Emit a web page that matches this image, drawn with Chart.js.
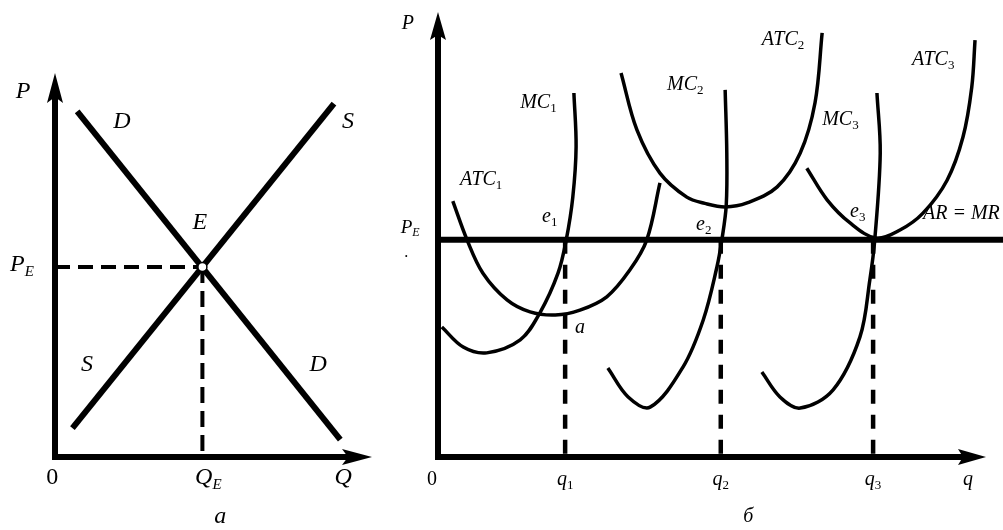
<!DOCTYPE html>
<html><head><meta charset="utf-8">
<script src="https://cdn.jsdelivr.net/npm/chart.js@4.4.1/dist/chart.umd.min.js"></script>
<style>
html,body{margin:0;padding:0;background:#fff;width:1003px;height:530px;overflow:hidden;}
canvas{position:absolute;top:0;}
#c1{left:0;} #c2{left:390px;}
</style></head><body>
<canvas id="c1" width="400" height="530"></canvas>
<canvas id="c2" width="613" height="530"></canvas>
<script>
// ---------- Panel "а": market ----------
const demandQ = [0.7, 9.0];
const demandP = [9.0, 0.45];
const supplyQ = [0.55, 8.8];
const supplyP = [0.75, 9.2];
const eqQ = 4.65;
const eqP = 4.95;

// ---------- Panel "б": firms ----------
const priceE = 4.88;
const qValues = [2.32, 5.16, 7.94];
const qTickLabels = ['1', '2', '3'];

const mc1Q  = [0.07, 0.46, 0.89, 1.50, 1.86, 2.19, 2.34, 2.46, 2.52, 2.48];
const mc1P  = [2.92, 2.47, 2.34, 2.63, 3.24, 4.13, 4.88, 5.84, 6.97, 8.18];
const atc1Q = [0.27, 0.53, 0.82, 1.26, 1.68, 2.14, 2.59, 3.08, 3.50, 3.81, 4.05];
const atc1P = [5.75, 4.88, 4.13, 3.53, 3.26, 3.19, 3.30, 3.60, 4.20, 4.88, 6.16];
const mc2Q  = [3.10, 3.47, 3.87, 4.47, 4.84, 5.09, 5.18, 5.26, 5.27, 5.24];
const mc2P  = [2.00, 1.35, 1.12, 2.02, 3.08, 4.27, 4.88, 5.66, 6.83, 8.25];
const atc2Q = [3.34, 3.63, 4.05, 4.54, 4.87, 5.24, 5.64, 6.19, 6.61, 6.88, 7.01];
const atc2P = [8.63, 7.35, 6.38, 5.84, 5.70, 5.62, 5.71, 6.07, 6.83, 7.96, 9.53];
const mc3Q  = [5.91, 6.24, 6.61, 7.21, 7.70, 7.88, 7.97, 8.07, 8.01];
const mc3P  = [1.91, 1.35, 1.10, 1.51, 2.70, 3.98, 4.88, 6.83, 8.18];
const atc3Q = [6.73, 7.10, 7.52, 7.99, 8.43, 8.85, 9.29, 9.58, 9.74, 9.80];
const atc3P = [6.49, 5.78, 5.26, 4.92, 5.10, 5.48, 6.22, 7.19, 8.31, 9.37];

// ---------- annotation config (text labels anchored in data units) ----------
const labelsA = [
  {t:'P', x:-1.01, y:9.51, al:'center'},
  {t:'D', x:2.11, y:8.72, al:'center'},
  {t:'S', x:9.24, y:8.72, al:'center'},
  {t:'E', x:4.57, y:6.09, al:'center'},
  {t:'P', s:'E', x:-1.42, y:5.0, al:'left', si:true},
  {t:'S', x:1.01, y:2.40, al:'center'},
  {t:'D', x:8.30, y:2.40, al:'center'},
  {t:'0', x:-0.09, y:-0.55, al:'center', up:true},
  {t:'Q', s:'E', x:4.42, y:-0.55, al:'left', si:true},
  {t:'Q', x:9.09, y:-0.55, al:'center'},
  {t:'а', x:5.21, y:-1.56, al:'center'}
];
const labelsB = [
  {t:'P', x:-0.55, y:9.73, al:'center'},
  {t:'P', s:'E', x:-0.68, y:5.15, al:'left', si:true, fs:19},
  {t:'.', x:-0.58, y:4.6, al:'center', up:true, fs:16},
  {t:'ATC', s:'1', x:0.40, y:6.22, al:'left'},
  {t:'MC', s:'1', x:1.50, y:7.96, al:'left'},
  {t:'e', s:'1', x:1.90, y:5.39, al:'left'},
  {t:'a', x:2.50, y:2.90, al:'left'},
  {t:'MC', s:'2', x:4.18, y:8.36, al:'left'},
  {t:'e', s:'2', x:4.71, y:5.21, al:'left'},
  {t:'ATC', s:'2', x:5.91, y:9.37, al:'left'},
  {t:'MC', s:'3', x:7.01, y:7.57, al:'left'},
  {t:'e', s:'3', x:7.52, y:5.51, al:'left'},
  {t:'ATC', s:'3', x:8.65, y:8.92, al:'left'},
  {t:'AR = MR', x:8.85, y:5.46, al:'left'},
  {t:'0', x:-0.11, y:-0.52, al:'center', up:true},
  {t:'q', x:9.67, y:-0.52, al:'center'},
  {t:'б', x:5.66, y:-1.35, al:'center'}
];

const pts = (xs, ys) => xs.map((x, i) => ({x, y: ys[i]}));
const FONT = '"Liberation Serif", "Times New Roman", serif';

function drawLabels(chart, labels, fs, ss) {
  const ctx = chart.ctx, xs = chart.scales.x, ys = chart.scales.y;
  ctx.save();
  ctx.fillStyle = '#000';
  ctx.textBaseline = 'middle';
  ctx.textAlign = 'left';
  labels.forEach(l => {
    const size = l.fs || fs, sub = Math.round(size * ss);
    const px = xs.getPixelForValue(l.x), py = ys.getPixelForValue(l.y);
    const mainFont = (l.up ? '' : 'italic ') + size + 'px ' + FONT;
    const subFont = (l.si ? 'italic ' : '') + sub + 'px ' + FONT;
    ctx.font = mainFont;
    const w1 = ctx.measureText(l.t).width;
    ctx.font = subFont;
    const w2 = l.s ? ctx.measureText(l.s).width : 0;
    let x0 = px;
    if (l.al === 'center') x0 = px - (w1 + w2) / 2;
    ctx.font = mainFont;
    ctx.fillText(l.t, x0, py);
    if (l.s) { ctx.font = subFont; ctx.fillText(l.s, x0 + w1, py + size * 0.28); }
  });
  ctx.restore();
}

function arrowHead(ctx, tx, ty, rot, len, half, notch) {
  ctx.save();
  ctx.translate(tx, ty); ctx.rotate(rot);
  ctx.beginPath();
  ctx.moveTo(0, 0); ctx.lineTo(half, len); ctx.lineTo(0, len - notch); ctx.lineTo(-half, len);
  ctx.closePath(); ctx.fill();
  ctx.restore();
}

function axesPlugin(lw, len, half, notch) {
  return {
    id: 'axesArrows',
    afterDatasetsDraw(chart) {
      const ctx = chart.ctx, xs = chart.scales.x, ys = chart.scales.y;
      const x0 = xs.getPixelForValue(0), y0 = ys.getPixelForValue(0);
      const xt = xs.getPixelForValue(xs.max), yt = ys.getPixelForValue(ys.max);
      ctx.save();
      ctx.strokeStyle = '#000'; ctx.fillStyle = '#000'; ctx.lineWidth = lw; ctx.lineCap = 'butt';
      ctx.beginPath();
      ctx.moveTo(x0, y0 + lw / 2); ctx.lineTo(x0, yt + len - notch - 1);
      ctx.moveTo(x0 - lw / 2, y0); ctx.lineTo(xt - len + notch + 1, y0);
      ctx.stroke();
      arrowHead(ctx, x0, yt, 0, len, half, notch);
      arrowHead(ctx, xt, y0, Math.PI / 2, len, half, notch);
      ctx.restore();
    }
  };
}

const baseOptions = (pad) => ({
  responsive: false, animation: false, devicePixelRatio: 1, events: [],
  layout: {padding: pad},
  plugins: {legend: {display: false}, tooltip: {enabled: false}},
  scales: {
    x: {type: 'linear', min: 0, max: 10, display: false},
    y: {type: 'linear', min: 0, max: 10, display: false}
  },
  elements: {point: {radius: 0}}
});

const lineDs = (data, w, extra) => Object.assign({
  data, showLine: true, borderColor: '#000', borderWidth: w, pointRadius: 0,
  fill: false, clip: false, tension: 0
}, extra || {});

// ---------- Chart "а" ----------
new Chart(document.getElementById('c1'), {
  type: 'scatter',
  data: {datasets: [
    {data: [{x: eqQ, y: eqP}], pointRadius: 4.5, pointBackgroundColor: '#fff',
     pointBorderColor: '#000', pointBorderWidth: 1.5, clip: false, showLine: false},
    lineDs(pts(demandQ, demandP), 6),
    lineDs(pts(supplyQ, supplyP), 6),
    lineDs([{x: 0, y: eqP}, {x: eqQ, y: eqP}], 4, {borderDash: [15, 8]}),
    lineDs([{x: eqQ, y: eqP}, {x: eqQ, y: 0}], 4, {borderDash: [16, 8]})
  ]},
  options: baseOptions({left: 55, right: 28, top: 73, bottom: 73}),
  plugins: [axesPlugin(6, 30, 8, 6), {
    id: 'lblA', afterDraw(chart) { drawLabels(chart, labelsA, 24, 0.62); }
  }]
});

// ---------- Chart "б" ----------
const qLabels = qValues.map((q, i) => ({t: 'q', s: qTickLabels[i], x: q, y: -0.52, al: 'center'}));
const smooth = {tension: 0.35};
new Chart(document.getElementById('c2'), {
  type: 'scatter',
  data: {datasets: [
    lineDs([{x: 0, y: priceE}, {x: 10.4, y: priceE}], 6),
    lineDs(pts(mc1Q, mc1P), 3.5, smooth),
    lineDs(pts(atc1Q, atc1P), 3.5, smooth),
    lineDs(pts(mc2Q, mc2P), 3.5, smooth),
    lineDs(pts(atc2Q, atc2P), 3.5, smooth),
    lineDs(pts(mc3Q, mc3P), 3.5, smooth),
    lineDs(pts(atc3Q, atc3P), 3.5, smooth),
    ...qValues.map(q => lineDs([{x: q, y: priceE}, {x: q, y: 0}], 4.5, {borderDash: [14, 11]}))
  ]},
  options: baseOptions({left: 48, right: 17, top: 12, bottom: 73}),
  plugins: [axesPlugin(6, 28, 8, 5), {
    id: 'lblB', afterDraw(chart) { drawLabels(chart, labelsB.concat(qLabels), 20, 0.65); }
  }]
});
</script>
</body></html>
